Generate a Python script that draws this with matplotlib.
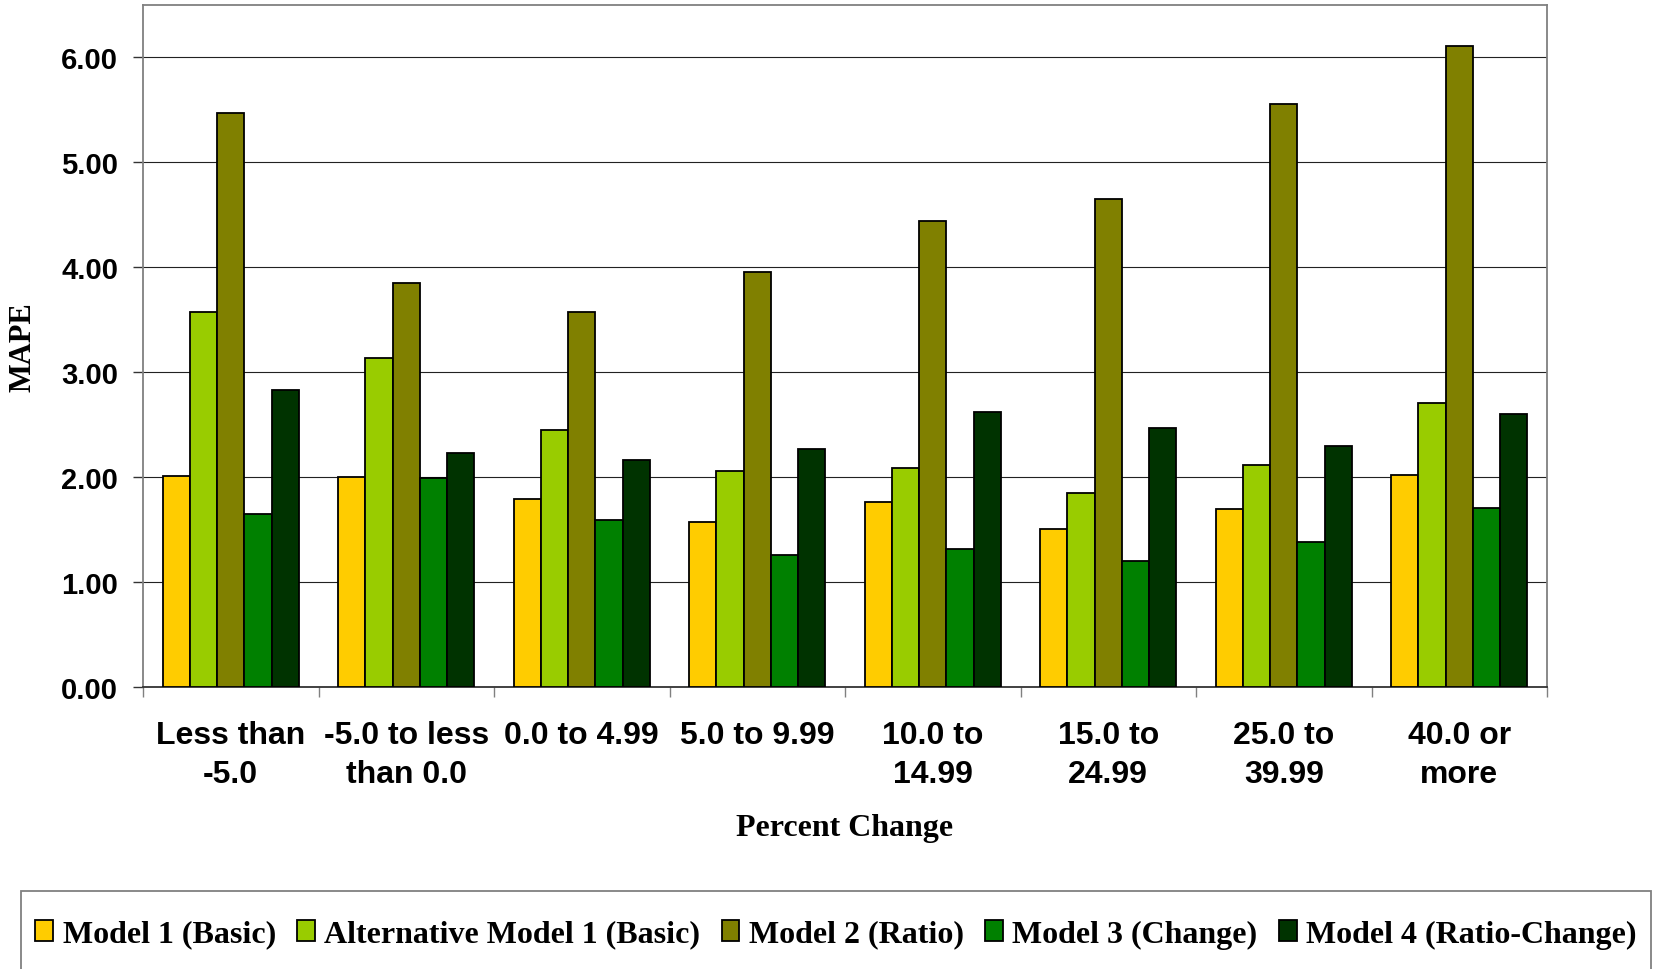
import matplotlib.pyplot as plt
from matplotlib.patches import Rectangle
import numpy as np

categories = ['Less than\n-5.0', '-5.0 to less\nthan 0.0', '0.0 to 4.99', '5.0 to 9.99',
              '10.0 to\n14.99', '15.0 to\n24.99', '25.0 to\n39.99', '40.0 or\nmore']

model_1 = [2.01, 2.00, 1.79, 1.57, 1.76, 1.51, 1.70, 2.02]
alt_model_1 = [3.57, 3.14, 2.45, 2.06, 2.09, 1.85, 2.12, 2.71]
model_2 = [5.47, 3.85, 3.57, 3.96, 4.44, 4.65, 5.56, 6.11]
model_3 = [1.65, 1.99, 1.59, 1.26, 1.32, 1.20, 1.38, 1.71]
model_4 = [2.83, 2.23, 2.16, 2.27, 2.62, 2.47, 2.30, 2.60]

series_names = ['Model 1 (Basic)', 'Alternative Model 1 (Basic)', 'Model 2 (Ratio)',
                'Model 3 (Change)', 'Model 4 (Ratio-Change)']
series_colors = ['#FFCC00', '#99CC00', '#808000', '#008000', '#003300']

SANS = 'Liberation Sans'
SERIF = 'Liberation Serif'

fig = plt.figure(figsize=(16.6, 9.7), dpi=100)
ax = fig.add_axes([143 / 1660, 1 - 688 / 970, 1404 / 1660, 682 / 970])

x = np.arange(len(categories))
width = 0.155
bars = []
for i, (vals, name, color) in enumerate(zip(
        [model_1, alt_model_1, model_2, model_3, model_4], series_names, series_colors)):
    b = ax.bar(x + (i - 2) * width, vals, width, color=color, edgecolor='black',
               linewidth=1.3, label=name, zorder=3)
    bars.append(b)

ax.set_xlim(-0.5, len(categories) - 0.5)
ax.set_ylim(0, 6.5)

# boundaries get the tick marks, centers get the labels
ax.set_xticks(np.arange(len(categories) + 1) - 0.5)
ax.set_xticklabels([])
ax.set_xticks(x, minor=True)
ax.set_xticklabels(categories, minor=True, fontfamily=SANS, fontweight='bold',
                   fontsize=23, linespacing=1.37)
ax.tick_params(axis='x', which='major', length=7, width=1, color='#808080', direction='out')
ax.tick_params(axis='x', which='minor', length=0, pad=24)

ax.set_yticks(np.arange(0, 7, 1))
ax.set_yticklabels([f'{v:.2f}' for v in np.arange(0, 7, 1)], fontfamily=SANS,
                   fontweight='bold', fontsize=21)
ax.tick_params(axis='y', length=7, width=1, color='#333333', direction='out', pad=11)

ax.grid(axis='y', color='#222222', linewidth=0.8, zorder=0)
ax.set_axisbelow(True)
for side, sp in ax.spines.items():
    sp.set_color('#808080')
    sp.set_linewidth(1.3)
ax.spines['bottom'].set_color('#333333')

ax.set_ylabel('MAPE', fontfamily=SERIF, fontweight='bold', fontsize=22,
              ha='center', va='center')
ax.yaxis.set_label_coords(-0.0858, 0.5)
ax.set_xlabel('Percent Change', fontfamily=SERIF, fontweight='bold', fontsize=23,
              ha='center', va='center')
ax.xaxis.set_label_coords(0.5, -0.2067)

leg = fig.legend(handles=bars, labels=series_names, ncol=5, mode='expand',
                 loc='center left', bbox_to_anchor=(21 / 1660, 1 - 935 / 970, 1630 / 1660, 0),
                 borderaxespad=0, frameon=False,
                 prop={'family': SERIF, 'weight': 'bold', 'size': 23},
                 handlelength=0.55, handleheight=0.65, handletextpad=0.3,
                 borderpad=0.45, columnspacing=0.8)

# legend box runs off the bottom of the picture, so draw it by hand
fig.patches.append(Rectangle((21 / 1660, -0.02), 1630 / 1660, 0.02 + 1 - 892 / 970,
                             transform=fig.transFigure, fill=False,
                             edgecolor='#808080', linewidth=1.3))

fig.savefig('out.png', dpi=100)
